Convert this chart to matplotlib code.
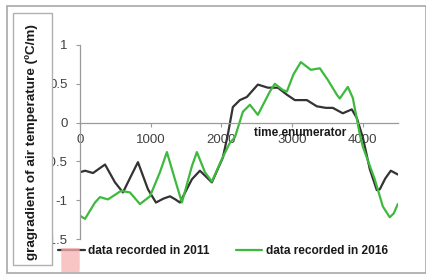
import matplotlib
matplotlib.use("Agg")
import matplotlib.pyplot as plt
from matplotlib.patches import Rectangle, FancyBboxPatch

# ---- data ----
x_2011 = [0, 71, 184, 354, 495, 608, 721, 820, 962, 1075, 1180, 1273, 1350, 1414, 1584, 1697,
          1866, 2022, 2093, 2163, 2262, 2361, 2517, 2658, 2800, 2927, 3040, 3125, 3210, 3351,
          3478, 3577, 3719, 3846, 3917, 4002, 4101, 4200, 4242, 4320, 4398, 4500]
y_2011 = [-0.64, -0.62, -0.65, -0.54, -0.77, -0.90, -0.69, -0.51, -0.86, -1.03, -0.98, -0.95,
          -0.99, -1.03, -0.73, -0.62, -0.77, -0.45, -0.15, 0.20, 0.29, 0.33, 0.49, 0.45, 0.45,
          0.36, 0.29, 0.29, 0.29, 0.21, 0.19, 0.19, 0.12, 0.17, 0.06, -0.19, -0.60, -0.87, -0.86,
          -0.72, -0.62, -0.67]

x_2016 = [0, 71, 212, 283, 396, 580, 707, 848, 990, 1131, 1230, 1343, 1442, 1584, 1654, 1768,
          1866, 2008, 2121, 2192, 2305, 2404, 2517, 2687, 2757, 2870, 2927, 3020, 3125, 3266,
          3394, 3507, 3634, 3676, 3790, 3860, 3959, 4002, 4171, 4285, 4383, 4440, 4497]
y_2016 = [-1.20, -1.24, -1.03, -0.96, -0.99, -0.88, -0.90, -1.05, -0.95, -0.64, -0.38, -0.73,
          -1.03, -0.56, -0.38, -0.64, -0.76, -0.47, -0.26, -0.19, 0.14, 0.23, 0.10, 0.40, 0.50,
          0.42, 0.40, 0.62, 0.78, 0.68, 0.70, 0.55, 0.36, 0.31, 0.46, 0.32, -0.15, -0.31, -0.73,
          -1.08, -1.22, -1.17, -1.05]

x_ticks = [0, 1000, 2000, 3000, 4000]
y_ticks = [-1.5, -1, -0.5, 0, 0.5, 1]
y_tick_labels = ["-1.5", "-1", "-0.5", "0", "0.5", "1"]

label_2011 = "data recorded in 2011"
label_2016 = "data recorded in 2016"
x_title = "time enumerator"
y_title = "gragradient of air temperature (ºC/m)"

# ---- figure ----
W, H = 426, 276
fig = plt.figure(figsize=(W / 100, H / 100), dpi=100)
fig.patch.set_facecolor("white")

def fx(px):
    return px / W

def fy(py):
    return (H - py) / H

bold_family = ["Liberation Sans", "DejaVu Sans"]

# outer border
fig.add_artist(Rectangle((fx(7), fy(273)), fx(419), (273 - 6) / H, transform=fig.transFigure,
                         fill=False, edgecolor="#a8a8a8", linewidth=1.2))

ax = fig.add_axes([fx(80), fy(239), fx(318), (239 - 45) / H])
ax.set_xlim(0, 4500)
ax.set_ylim(-1.5, 1)

ax.plot(x_2011, y_2011, color="#333333", linewidth=1.6, label=label_2011,
        solid_joinstyle="round", solid_capstyle="round")
ax.plot(x_2016, y_2016, color="#3dba3d", linewidth=1.6, label=label_2016,
        solid_joinstyle="round", solid_capstyle="round")

for s in ["top", "right"]:
    ax.spines[s].set_visible(False)
ax.spines["left"].set_color("#9a9a9a")
ax.spines["bottom"].set_color("#9a9a9a")
ax.spines["bottom"].set_position(("data", 0))
ax.spines["left"].set_linewidth(0.9)
ax.spines["bottom"].set_linewidth(0.9)

ax.set_xticks(x_ticks)
ax.set_xticklabels([str(t) for t in x_ticks])
ax.set_yticks(y_ticks)
ax.set_yticklabels(y_tick_labels)
ax.tick_params(axis="both", colors="#9a9a9a", labelcolor="#404040", labelsize=9.5,
               length=3, width=0.8, direction="out")
ax.tick_params(axis="x", pad=5)
ax.tick_params(axis="y", pad=6)
for lab in ax.get_xticklabels() + ax.get_yticklabels():
    lab.set_family(["Liberation Sans", "DejaVu Sans"])
ax.set_facecolor("none")

# x title
fig.text(fx(300), fy(133), x_title, ha="center", va="center", fontsize=8.5,
         fontweight="bold", family=bold_family, color="#1a1a1a", zorder=6)

# y title box (drawn on top of tick labels)
fig.add_artist(Rectangle((fx(13), fy(265)), fx(39), (265 - 13) / H, transform=fig.transFigure,
                         facecolor="white", edgecolor="#b0b0b0", linewidth=1.0, zorder=5))
fig.text(fx(32), fy(142), y_title, rotation=90, ha="center", va="center", fontsize=9.7,
         fontweight="bold", family=bold_family, color="#1a1a1a", zorder=6)

# legend
leg = fig.legend(loc="center", bbox_to_anchor=(fx(223), fy(251)), ncol=2, frameon=False,
                 handlelength=2.2, handletextpad=0.3, columnspacing=2.2,
                 prop={"family": bold_family, "weight": "bold", "size": 8.6})
for t in leg.get_texts():
    t.set_color("#1a1a1a")

# pink marker artifact
fig.add_artist(FancyBboxPatch((fx(63), fy(271)), fx(15), 22 / H, boxstyle="round,pad=0.004",
                              transform=fig.transFigure, facecolor="#f6b0b0", edgecolor="none",
                              alpha=0.75, zorder=7))

fig.savefig("out.png", dpi=100)
